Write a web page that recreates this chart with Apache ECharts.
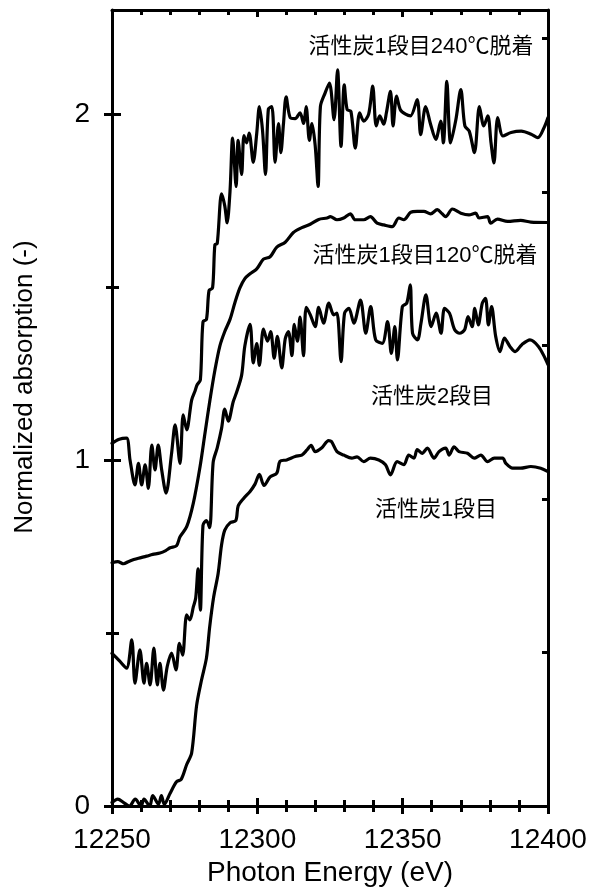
<!DOCTYPE html>
<html>
<head>
<meta charset="utf-8">
<script src="https://cdn.jsdelivr.net/npm/echarts@6/dist/echarts.min.js"></script>
<style>html,body{margin:0;padding:0;background:#fff}#c{width:590px;height:892px}</style>
</head>
<body>
<div id="c"></div>
<script>
// ---- data ----
const xTickLabels = [12250, 12300, 12350, 12400];
const yTickLabels = [0, 1, 2];
const yMinorTicks = [0.5, 1.5];
const rightTicks = [0.443, 0.887, 1.33, 1.774, 2.217];

const seriesNames = ['活性炭1段目', '活性炭1段目120℃脱着', '活性炭2段目', '活性炭1段目240℃脱着'];

// 活性炭1段目
const energyA = [12250,12252,12254,12256,12258,12260,12261,12263,12264,12266,12267,12268,12270,12272.2,12273.8,12275.7,12277.4,12279.1,12280.8,12282.5,12283.6,12285.0,12286.5,12287.7,12288.8,12290.6,12292.6,12293.4,12295.2,12297.5,12299.2,12300.7,12302.3,12304.4,12306.7,12307.8,12310.1,12313.0,12315.3,12317.0,12318.5,12319.9,12322.2,12324.5,12325.5,12327.4,12329.7,12332.5,12334.3,12336.6,12338.9,12341.8,12344.1,12345.8,12348.1,12350.4,12352.1,12353.9,12355.0,12356.7,12358.5,12360.8,12362.5,12364.8,12366.0,12367.7,12369.4,12372.3,12374.6,12376.9,12379.2,12381.5,12384.4,12385.5,12387.8,12390.6,12394.1,12397.5,12400];
const absorbA = [0.01,0.02,0.01,0.0,0.02,0.0,0.02,0.0,0.03,0.005,0.03,0.005,0.037,0.07,0.077,0.12,0.153,0.29,0.364,0.428,0.517,0.605,0.671,0.755,0.797,0.818,0.825,0.867,0.888,0.909,0.930,0.958,0.926,0.951,0.962,0.996,1.0,1.01,1.014,1.028,1.042,1.024,1.035,1.056,1.053,1.024,1.014,1.005,1.009,0.995,1.005,1.0,0.986,0.957,0.995,0.986,1.014,1.005,1.03,1.019,1.034,1.005,1.024,1.034,1.014,1.038,1.024,1.019,1.005,1.014,0.995,1.005,1.005,0.99,0.976,0.976,0.981,0.976,0.966];

// 活性炭1段目120℃脱着
const energyB = [12250,12252,12254,12255.6,12257.5,12259.1,12261.9,12264,12266.5,12268.5,12270.0,12272.2,12273.4,12275.7,12278.0,12280.3,12282.0,12283.7,12285.4,12287.1,12288.8,12290.6,12292.3,12294.0,12295.7,12297.5,12299.8,12302.1,12304.4,12306.7,12309.6,12312.4,12315.3,12318.2,12321.1,12324.0,12325.1,12327.4,12329.7,12332.0,12333.7,12336.6,12338.9,12341.2,12343.5,12346.4,12348.7,12350.4,12352.7,12355.0,12357.3,12359.6,12361.9,12363.6,12364.8,12367.1,12370.0,12372.8,12375.1,12376.3,12379.2,12380.3,12382.6,12386.1,12390.6,12394.1,12400];
const absorbB = [0.703,0.706,0.700,0.706,0.712,0.716,0.722,0.727,0.731,0.738,0.746,0.752,0.778,0.807,0.876,0.981,1.078,1.173,1.259,1.329,1.371,1.406,1.455,1.497,1.524,1.538,1.552,1.580,1.587,1.615,1.629,1.657,1.671,1.681,1.695,1.699,1.703,1.694,1.699,1.711,1.694,1.694,1.703,1.684,1.679,1.674,1.699,1.694,1.715,1.718,1.718,1.711,1.723,1.711,1.703,1.725,1.713,1.708,1.713,1.699,1.703,1.684,1.696,1.689,1.692,1.687,1.686];

// 活性炭2段目
const energyC = [12250,12252.5,12255.0,12256.8,12257.9,12259.6,12261.0,12261.9,12263.1,12264.4,12265.6,12266.5,12267.7,12269.0,12270.5,12272.0,12273.2,12274.3,12275.7,12276.8,12278.0,12278.8,12279.6,12280.4,12281.3,12282.5,12283.6,12284.8,12286.2,12287.7,12288.8,12290.0,12291.7,12292.9,12294.6,12295.7,12297.5,12298.6,12299.8,12300.7,12302.1,12303.5,12304.6,12305.8,12306.9,12308.4,12309.6,12310.7,12311.9,12312.7,12313.8,12314.7,12315.9,12316.8,12318.2,12319.9,12321.1,12322.8,12324.6,12326.3,12327.4,12328.8,12330.0,12331.5,12333.2,12335.5,12337.3,12339.0,12340.7,12343.0,12344.8,12346.1,12347.3,12348.2,12349.9,12351.4,12352.6,12353.4,12355.1,12356.3,12358.0,12359.8,12361.5,12363.2,12364.4,12366.1,12367.9,12369.6,12371.3,12372.5,12373.9,12374.8,12376.0,12377.4,12378.5,12379.5,12380.6,12382.0,12383.5,12385.0,12386.9,12388.7,12391.0,12393.8,12396.7,12399.0,12400];
const absorbC = [0.441,0.42,0.398,0.480,0.355,0.451,0.355,0.412,0.350,0.456,0.350,0.412,0.335,0.403,0.442,0.393,0.470,0.436,0.552,0.538,0.576,0.601,0.685,0.566,0.811,0.825,0.804,0.993,1.035,1.091,1.147,1.112,1.168,1.196,1.245,1.329,1.392,1.280,1.336,1.273,1.378,1.343,1.371,1.294,1.357,1.266,1.350,1.371,1.301,1.392,1.343,1.413,1.301,1.441,1.420,1.385,1.441,1.395,1.453,1.419,1.424,1.284,1.424,1.438,1.395,1.462,1.366,1.443,1.347,1.337,1.400,1.308,1.385,1.289,1.443,1.453,1.506,1.366,1.347,1.395,1.477,1.385,1.424,1.366,1.438,1.424,1.376,1.366,1.376,1.414,1.385,1.438,1.390,1.453,1.467,1.390,1.443,1.357,1.313,1.352,1.328,1.313,1.333,1.347,1.328,1.294,1.275];

// 活性炭1段目240℃脱着
const energyD = [12250,12252.5,12255,12256.2,12257.9,12259.1,12260.2,12261.4,12262.5,12263.7,12264.8,12265.9,12267.1,12268.6,12270.5,12271.7,12273.4,12274.5,12275.7,12277.4,12278.6,12279.3,12280.4,12281.3,12282.5,12283.4,12284.6,12285.4,12286.2,12287.7,12288.8,12289.6,12290.6,12291.5,12292.7,12293.4,12294.6,12295.4,12296.3,12297.2,12298.6,12299.8,12300.7,12301.8,12302.8,12303.8,12305.0,12306.1,12307.3,12308.1,12309.0,12309.9,12311.3,12313.0,12314.7,12315.9,12316.8,12317.9,12318.8,12319.9,12320.9,12321.7,12323.3,12324.8,12326.4,12327.6,12328.8,12329.9,12330.9,12332.2,12333.7,12335.2,12336.6,12338.3,12339.7,12340.9,12342.1,12343.5,12344.4,12345.8,12346.7,12347.9,12349.2,12351.0,12352.7,12355.0,12356.2,12357.9,12359.6,12361.4,12363.1,12364.0,12365.2,12366.5,12368.3,12370.0,12371.4,12372.9,12374.7,12376.4,12377.9,12379.3,12380.4,12381.4,12382.7,12384.5,12387.3,12390.8,12394.2,12396.5,12398.9,12400];
const absorbD = [1.048,1.060,1.063,1.0,0.928,0.990,0.928,0.986,0.918,1.043,0.971,1.043,0.971,0.904,1.019,1.101,0.990,1.130,1.087,1.173,1.20,1.217,1.231,1.399,1.406,1.490,1.497,1.622,1.625,1.769,1.734,1.685,1.776,1.930,1.790,1.923,1.825,1.937,1.916,1.944,1.860,1.944,2.021,1.951,1.825,2.014,2.021,1.860,1.972,1.888,1.972,2.049,1.989,1.986,2.003,1.972,2.021,1.923,1.972,1.909,1.790,2.021,2.060,2.089,1.983,2.127,1.906,2.084,2.012,2.007,1.901,2.003,1.979,1.999,2.080,1.965,1.994,1.970,2.003,2.065,1.965,2.051,2.012,1.999,1.994,2.041,1.940,2.021,1.970,1.926,1.979,1.916,2.094,1.916,1.983,2.070,1.965,1.950,1.888,2.021,1.965,1.994,1.916,1.858,1.989,1.936,1.946,1.950,1.941,1.931,1.965,1.989];

// ---- build ----
const pair = (xs, ys) => xs.map((x, i) => [x, ys[i]]);
const curves = [pair(energyA, absorbA), pair(energyB, absorbB), pair(energyC, absorbC), pair(energyD, absorbD)];

const LAT = 'Liberation Sans, Arial, sans-serif';
const JP = 'Liberation Sans, Noto Sans CJK JP, sans-serif';
const BLK = '#000';
const tickStyle = { color: BLK, width: 3 };
const noSplit = { show: false };

function xAx(extra) {
  return Object.assign({
    type: 'value', min: 12250, max: 12400, interval: 50,
    splitLine: noSplit,
    axisLine: { show: false, onZero: false, lineStyle: { color: BLK, width: 3 } },
    axisLabel: { show: false },
  }, extra);
}
function yAx(extra) {
  return Object.assign({
    type: 'value', min: 0, max: 2.3,
    splitLine: noSplit,
    axisLine: { show: false, onZero: false, lineStyle: { color: BLK, width: 3 } },
    axisLabel: { show: false },
  }, extra);
}

const chart = echarts.init(document.getElementById('c'), null, { renderer: 'canvas' });
chart.setOption({
  animation: false,
  backgroundColor: '#fff',
  grid: { left: 112, right: 42, top: 10, bottom: 86, containLabel: false },
  xAxis: [
    xAx({ position: 'bottom',
      axisLine: { show: true, onZero: false, lineStyle: { color: BLK, width: 3 } },
      axisTick: { show: true, inside: true, length: 8, lineStyle: tickStyle },
      minorTick: { show: true, splitNumber: 5, length: 6, lineStyle: tickStyle },
      axisLabel: { show: true, color: BLK, fontSize: 28, fontFamily: LAT, margin: 20,
        customValues: xTickLabels, showMinLabel: true, showMaxLabel: true,
        formatter: v => String(Math.round(v)) } }),
    xAx({ position: 'bottom',
      axisTick: { show: true, inside: false, length: 8, lineStyle: tickStyle },
      minorTick: { show: true, splitNumber: 5, length: 6, lineStyle: tickStyle } }),
    xAx({ position: 'top',
      axisLine: { show: true, onZero: false, lineStyle: { color: BLK, width: 3 } },
      axisTick: { show: true, inside: true, length: 7, lineStyle: tickStyle },
      minorTick: { show: true, splitNumber: 5, length: 5, lineStyle: tickStyle } })
  ],
  yAxis: [
    yAx({ position: 'left',
      axisLine: { show: true, onZero: false, lineStyle: { color: BLK, width: 3 } },
      axisTick: { show: true, inside: true, length: 9, customValues: yTickLabels, lineStyle: tickStyle },
      axisLabel: { show: true, color: BLK, fontSize: 28, fontFamily: LAT, margin: 22, customValues: yTickLabels,
        formatter: v => String(v) } }),
    yAx({ position: 'left',
      axisTick: { show: true, inside: false, length: 8, customValues: yTickLabels, lineStyle: tickStyle } }),
    yAx({ position: 'left',
      axisTick: { show: true, inside: true, length: 7, customValues: yMinorTicks, lineStyle: tickStyle } }),
    yAx({ position: 'left',
      axisTick: { show: true, inside: false, length: 6, customValues: yMinorTicks, lineStyle: tickStyle } }),
    yAx({ position: 'right',
      axisLine: { show: true, onZero: false, lineStyle: { color: BLK, width: 3 } },
      axisTick: { show: true, inside: true, length: 6, customValues: rightTicks, lineStyle: tickStyle } })
  ],
  series: curves.map((d, i) => ({
    name: seriesNames[i], type: 'line', xAxisIndex: 0, yAxisIndex: 0,
    data: d, showSymbol: false, symbol: 'none', smooth: 0.3,
    lineStyle: { color: BLK, width: 3.2, join: 'round', cap: 'round' },
    emphasis: { disabled: true }, silent: true
  })),
  graphic: [
    { type: 'text', x: 330, y: 873, style: { text: 'Photon Energy (eV)', fill: BLK, font: '28px ' + LAT, textAlign: 'center', textVerticalAlign: 'middle' } },
    { type: 'text', x: 25, y: 387, rotation: Math.PI / 2, style: { text: 'Normalized absorption (-)', fill: BLK, font: '26px ' + LAT, textAlign: 'center', textVerticalAlign: 'middle' } },
    { type: 'text', x: 421, y: 47, style: { text: seriesNames[3], fill: BLK, font: '22px ' + JP, textAlign: 'center', textVerticalAlign: 'middle' } },
    { type: 'text', x: 425, y: 256, style: { text: seriesNames[1], fill: BLK, font: '22px ' + JP, textAlign: 'center', textVerticalAlign: 'middle' } },
    { type: 'text', x: 432, y: 397, style: { text: seriesNames[2], fill: BLK, font: '22px ' + JP, textAlign: 'center', textVerticalAlign: 'middle' } },
    { type: 'text', x: 436, y: 510, style: { text: seriesNames[0], fill: BLK, font: '22px ' + JP, textAlign: 'center', textVerticalAlign: 'middle' } }
  ]
});
</script>
</body>
</html>
